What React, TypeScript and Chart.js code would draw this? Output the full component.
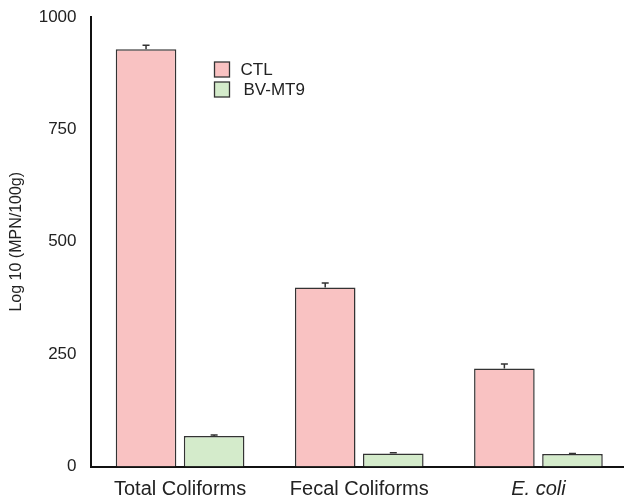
import React, { useEffect, useRef } from "react";
import { Chart, registerables } from "chart.js";

Chart.register(...registerables);

const categories = ["Total Coliforms", "Fecal Coliforms", "E. coli"];
const seriesNames = ["CTL", "BV-MT9"];
const ctlValues = [928, 398, 218];
const ctlErrors = [9, 10, 10];
const bvValues = [68, 29, 28];
const bvErrors = [2, 1.5, 1];
const yTickValues = [0, 250, 500, 750, 1000];

const ctlFill = "#f9c2c2";
const bvFill = "#d4ebcb";
const edge = "#333333";

const errorBarPlugin = {
  id: "errorBars",
  afterDatasetsDraw(chart: any) {
    const ctx = chart.ctx;
    const yScale = chart.scales.y;
    chart.data.datasets.forEach((ds: any, di: number) => {
      const meta = chart.getDatasetMeta(di);
      const errs: number[] = ds.errors || [];
      meta.data.forEach((el: any, i: number) => {
        const v = ds.data[i];
        const e = errs[i] || 0;
        const yTop = yScale.getPixelForValue(v + e);
        const yBar = yScale.getPixelForValue(v);
        ctx.save();
        ctx.strokeStyle = edge;
        ctx.lineWidth = 1.5;
        ctx.beginPath();
        ctx.moveTo(el.x, yBar);
        ctx.lineTo(el.x, yTop);
        ctx.moveTo(el.x - 3.5, yTop);
        ctx.lineTo(el.x + 3.5, yTop);
        ctx.stroke();
        ctx.restore();
      });
    });
  },
};

const legendPlugin = {
  id: "innerLegend",
  afterDraw(chart: any) {
    const ctx = chart.ctx;
    const { left, top } = chart.chartArea;
    const fills = [ctlFill, bvFill];
    const textOffsets = [26, 29];
    ctx.save();
    seriesNames.forEach((name, i) => {
      const bx = left + 124;
      const by = top + 45 + i * 20;
      ctx.fillStyle = fills[i];
      ctx.fillRect(bx, by, 15, 15);
      ctx.strokeStyle = edge;
      ctx.lineWidth = 1.3;
      ctx.strokeRect(bx, by, 15, 15);
      ctx.fillStyle = "#222";
      ctx.font = "17px 'Liberation Sans', Arial, sans-serif";
      ctx.textBaseline = "middle";
      ctx.textAlign = "left";
      ctx.fillText(name, bx + textOffsets[i], by + 8);
    });
    ctx.restore();
  },
};

export default function App() {
  const canvasRef = useRef<HTMLCanvasElement | null>(null);

  useEffect(() => {
    if (!canvasRef.current) return;
    Chart.defaults.font.family = "'Liberation Sans', Arial, sans-serif";
    Chart.defaults.color = "#222";
    const chart = new Chart(canvasRef.current, {
      type: "bar",
      data: {
        labels: categories,
        datasets: [
          {
            label: seriesNames[0],
            data: ctlValues,
            errors: ctlErrors,
            backgroundColor: ctlFill,
            borderColor: edge,
            borderWidth: 1.5,
            categoryPercentage: 0.76,
            barPercentage: 0.89,
          } as any,
          {
            label: seriesNames[1],
            data: bvValues,
            errors: bvErrors,
            backgroundColor: bvFill,
            borderColor: edge,
            borderWidth: 1.5,
            categoryPercentage: 0.76,
            barPercentage: 0.89,
          } as any,
        ],
      },
      options: {
        animation: false,
        responsive: false,
        maintainAspectRatio: false,
        layout: { padding: { top: 17, right: 0, left: 0, bottom: 0 } },
        plugins: {
          legend: { display: false },
          tooltip: { enabled: false },
        },
        scales: {
          x: {
            z: 1,
            grid: { display: false, drawTicks: false },
            border: { display: true, color: "#111", width: 2 },
            ticks: {
              padding: 11,
              color: "#222",
              font: (c: any) => ({
                size: 20,
                style: c.index === 2 ? "italic" : "normal",
              }),
            },
            afterFit: (s: any) => {
              s.height = 34.5;
              s.paddingLeft = 0;
              s.paddingRight = 0;
            },
          },
          y: {
            z: 1,
            min: 0,
            max: 1000,
            afterBuildTicks: (s: any) => {
              s.ticks = yTickValues.map((v) => ({ value: v }));
            },
            grid: { display: false, drawTicks: false },
            border: { display: true, color: "#111", width: 2 },
            ticks: {
              padding: 14,
              color: "#222",
              font: { size: 17 },
              callback: (v: any) => String(v),
            },
            title: {
              display: true,
              text: "Log 10 (MPN/100g)",
              font: { size: 16 },
              color: "#222",
              padding: { top: 7, bottom: 0 },
            },
            afterFit: (s: any) => {
              s.width = 90.5;
              s.paddingTop = 0;
              s.paddingBottom = 0;
            },
          },
        },
      },
      plugins: [errorBarPlugin, legendPlugin],
    } as any);
    return () => chart.destroy();
  }, []);

  return (
    <div
      style={{
        position: "absolute",
        left: 0,
        top: 0,
        width: 624,
        height: 501,
        overflow: "hidden",
        background: "#fff",
      }}
    >
      <canvas
        ref={canvasRef}
        width={628}
        height={501}
        style={{ width: 628, height: 501, display: "block" }}
      />
    </div>
  );
}
